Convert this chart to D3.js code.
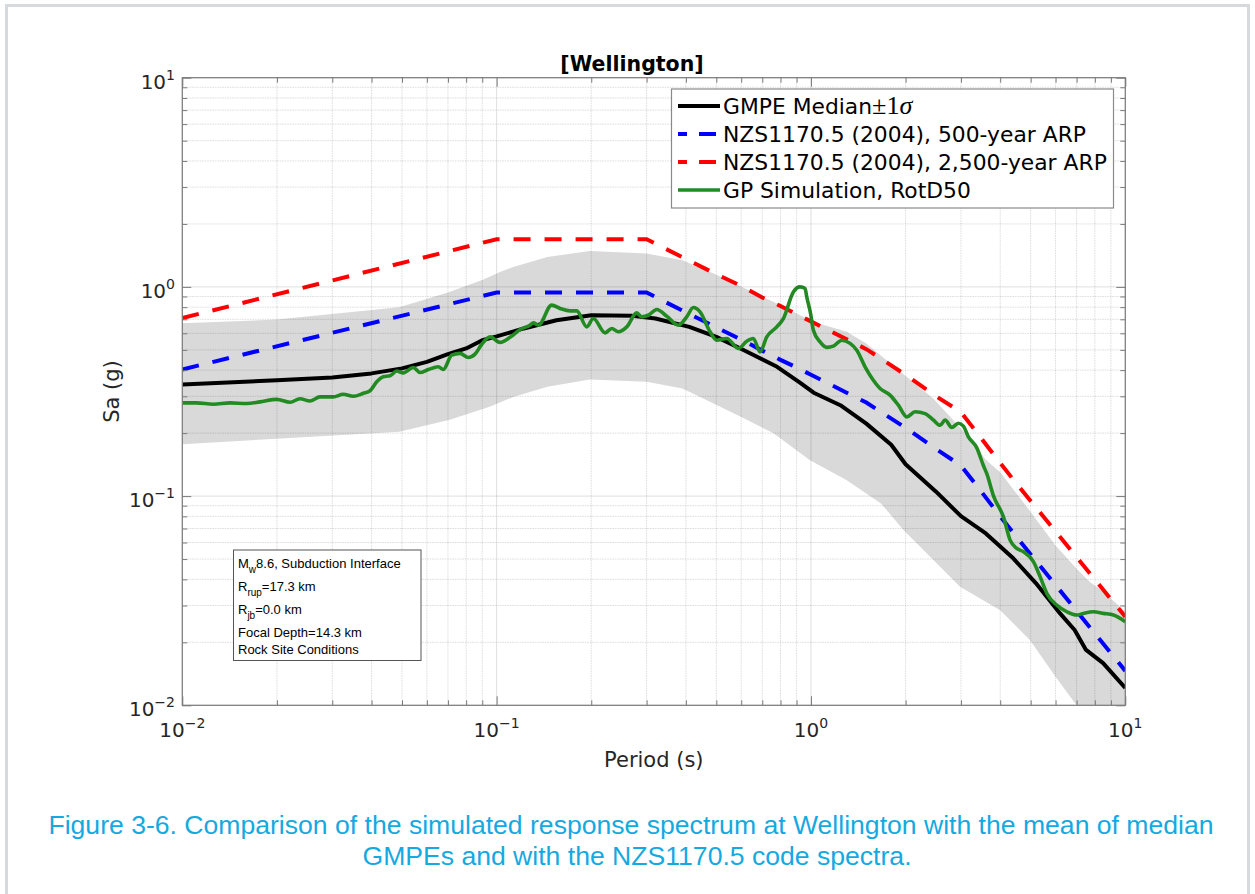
<!DOCTYPE html>
<html><head><meta charset="utf-8">
<script src="https://cdn.jsdelivr.net/npm/d3@7"></script>
<style>body{margin:0;background:#fff}svg{display:block}</style>
</head><body><svg id="c" width="1255" height="894"></svg>
<script>
// ---------------- DATA ----------------
const majorTicks = [0.01, 0.1, 1, 10];
const tickExponents = ["\u22122", "\u22121", "0", "1"];
const minorFactors = [2, 3, 4, 5, 6, 7, 8, 9];

// NZS1170.5 (2004) code spectra
const nzsPeriods = [0.01,0.1,0.3,0.4,0.5,0.6,0.7,0.8,0.9,1.0,1.5,2.0,2.5,3.0,3.5,4.0,4.5,10];
const nzs500     = [0.403,0.94,0.94,0.756,0.64,0.56,0.496,0.448,0.412,0.38,0.28,0.212,0.168,0.14,0.104,0.08,0.064,0.0146];
const nzs2500    = [0.71,1.69,1.69,1.36,1.15,1.01,0.89,0.81,0.74,0.684,0.504,0.38,0.30,0.252,0.187,0.144,0.115,0.0265];

// GMPE median
const medianPeriods = [0.01,0.02,0.03,0.04,0.05,0.06,0.07,0.08,0.09,0.1,0.122,0.155,0.2,0.27,0.32,0.41,0.5,0.61,0.78,0.92,1.02,1.24,1.5,1.8,2.0,2.5,3.0,3.6,4.4,5.2,6.2,6.9,7.5,8.5,10];
const medianSa      = [0.342,0.358,0.369,0.386,0.408,0.438,0.477,0.508,0.556,0.58,0.633,0.693,0.732,0.727,0.706,0.644,0.577,0.499,0.415,0.35,0.312,0.272,0.222,0.176,0.142,0.105,0.0802,0.0663,0.0504,0.0383,0.0275,0.0229,0.0184,0.0159,0.0121];

// GMPE median + 1 sigma
const upperPeriods = [0.01,0.02,0.049,0.07,0.09,0.103,0.113,0.145,0.198,0.3,0.39,0.49,0.62,0.8,1.02,1.3,1.5,1.9,2.45,3.17,3.6,4.0,5.0,6.0,7.0,7.7,8.5,10];
const upperSa      = [0.67,0.698,0.80,0.94,1.08,1.18,1.246,1.39,1.486,1.444,1.34,1.159,0.98,0.818,0.68,0.61,0.537,0.40,0.293,0.192,0.149,0.13,0.084,0.058,0.045,0.039,0.035,0.028];

// GMPE median - 1 sigma
const lowerPeriods = [0.01,0.049,0.071,0.095,0.113,0.145,0.198,0.3,0.39,0.49,0.6,0.76,0.99,1.3,1.67,1.97,2.98,4.0,4.97,6.0,6.8,8,10];
const lowerSa      = [0.177,0.203,0.232,0.267,0.298,0.333,0.361,0.352,0.327,0.277,0.239,0.1995,0.1486,0.119,0.0923,0.0689,0.0369,0.0285,0.0205,0.0137,0.0106,0.0078,0.0058];

// GP simulation RotD50
const simPeriods = [0.01,0.0111,0.01256,0.01419,0.01603,0.01766,0.01995,0.02203,0.02367,0.02547,0.02742,0.03022,0.03251,0.03499,0.03766,0.03956,0.04154,0.0436,0.04579,0.04809,0.05048,0.05433,0.05706,0.06065,0.06525,0.06767,0.07196,0.07648,0.08128,0.08535,0.08966,0.09528,0.1025,0.1103,0.1187,0.1277,0.1309,0.1358,0.1497,0.1591,0.1712,0.1798,0.1935,0.2031,0.2213,0.2324,0.2439,0.2594,0.2791,0.2895,0.3039,0.3231,0.3477,0.3785,0.4025,0.4224,0.4437,0.4775,0.5014,0.5396,0.5875,0.6247,0.6556,0.6887,0.7234,0.7785,0.817,0.879,0.923,0.9577,0.9696,0.997,1.018,1.069,1.123,1.178,1.253,1.332,1.399,1.486,1.579,1.659,1.785,1.897,2.018,2.144,2.307,2.452,2.575,2.672,2.805,2.944,3.054,3.168,3.37,3.536,3.625,3.81,4.095,4.301,4.517,4.741,5.101,5.357,5.626,6.053,6.516,7.012,7.36,7.916,8.52,9.166,10];
const simSa      = [0.279,0.279,0.275,0.279,0.277,0.282,0.290,0.281,0.292,0.285,0.298,0.298,0.307,0.300,0.310,0.319,0.352,0.372,0.376,0.396,0.388,0.412,0.390,0.403,0.415,0.403,0.472,0.481,0.460,0.477,0.532,0.577,0.543,0.574,0.626,0.656,0.673,0.656,0.818,0.789,0.768,0.768,0.644,0.706,0.603,0.633,0.610,0.644,0.751,0.719,0.732,0.780,0.724,0.656,0.719,0.797,0.760,0.610,0.556,0.567,0.508,0.550,0.567,0.489,0.577,0.644,0.706,0.946,1.0,0.983,0.896,0.746,0.621,0.546,0.514,0.521,0.556,0.537,0.498,0.415,0.358,0.327,0.304,0.272,0.239,0.253,0.248,0.231,0.218,0.231,0.213,0.223,0.216,0.192,0.17,0.14,0.128,0.10,0.0796,0.0616,0.0562,0.0542,0.0486,0.0412,0.0343,0.0301,0.0280,0.0270,0.0275,0.0280,0.0275,0.0270,0.0251];

const legendLabels = ["GMPE Median", "NZS1170.5 (2004), 500-year ARP", "NZS1170.5 (2004), 2,500-year ARP", "GP Simulation, RotD50"];
const infoLines = [
  [["M",""],["w","sub"],["8.6, Subduction Interface",""]],
  [["R",""],["rup","sub"],["=17.3 km",""]],
  [["R",""],["jb","sub"],["=0.0 km",""]],
  [["Focal Depth=14.3 km",""]],
  [["Rock Site Conditions",""]]
];
const captionLines = ["Figure 3-6. Comparison of the simulated response spectrum at Wellington with the mean of median",
                      "GMPEs and with the NZS1170.5 code spectra."];

// ---------------- CHART ----------------
const svg = d3.select("#c");
const L = 182.3, R = 1125.3, T = 77.7, B = 705.3;
const x = d3.scaleLog().domain([0.01, 10]).range([L, R]);
const y = d3.scaleLog().domain([0.01, 10]).range([B, T]);
const axisCol = "#7a7a7a", textCol = "#262626";

// page frame
svg.append("rect").attr("x", 6.5).attr("y", 5.5).attr("width", 1242).attr("height", 900)
  .attr("fill", "none").attr("stroke", "#d7dadd").attr("stroke-width", 3);

svg.append("defs").append("clipPath").attr("id", "clip")
  .append("rect").attr("x", L).attr("y", T).attr("width", R - L).attr("height", B - T);

const plot = svg.append("g").attr("clip-path", "url(#clip)");

// band
const bandPts = upperPeriods.map((p, i) => [p, upperSa[i]])
  .concat(lowerPeriods.map((p, i) => [p, lowerSa[i]]).reverse());
plot.append("path")
  .attr("d", d3.line().x(d => x(d[0])).y(d => y(d[1])).curve(d3.curveLinearClosed)(bandPts))
  .attr("fill", "#d9d9d9").attr("stroke", "none");

// grid
const minorVals = [];
[0.01, 0.1, 1].forEach(d => minorFactors.forEach(k => minorVals.push(k * d)));
const grid = svg.append("g");
minorVals.forEach(v => {
  grid.append("line").attr("x1", x(v)).attr("x2", x(v)).attr("y1", T).attr("y2", B)
    .attr("stroke", "rgba(38,38,38,0.16)").attr("stroke-width", 1).attr("stroke-dasharray", "1.5,1");
  grid.append("line").attr("y1", y(v)).attr("y2", y(v)).attr("x1", L).attr("x2", R)
    .attr("stroke", "rgba(38,38,38,0.16)").attr("stroke-width", 1).attr("stroke-dasharray", "1.5,1");
});
majorTicks.forEach(v => {
  grid.append("line").attr("x1", x(v)).attr("x2", x(v)).attr("y1", T).attr("y2", B)
    .attr("stroke", "rgba(38,38,38,0.15)").attr("stroke-width", 1);
  grid.append("line").attr("y1", y(v)).attr("y2", y(v)).attr("x1", L).attr("x2", R)
    .attr("stroke", "rgba(38,38,38,0.15)").attr("stroke-width", 1);
});

// lines
const line = d3.line().x(d => x(d[0])).y(d => y(d[1]));
const zip = (a, b) => a.map((p, i) => [p, b[i]]);
plot.append("path").attr("d", line(zip(nzsPeriods, nzs2500)))
  .attr("fill", "none").attr("stroke", "#ff0000").attr("stroke-width", 4).attr("stroke-dasharray", "17,14");
plot.append("path").attr("d", line(zip(nzsPeriods, nzs500)))
  .attr("fill", "none").attr("stroke", "#0000ff").attr("stroke-width", 4).attr("stroke-dasharray", "17,14");
plot.append("path").attr("d", line(zip(medianPeriods, medianSa)))
  .attr("fill", "none").attr("stroke", "#000").attr("stroke-width", 4).attr("stroke-linejoin", "round");
plot.append("path").attr("d", line.curve(d3.curveMonotoneX)(zip(simPeriods, simSa)))
  .attr("fill", "none").attr("stroke", "#228b22").attr("stroke-width", 3.6).attr("stroke-linejoin", "round");

// axes ticks (inward) on all four sides
function ticks(axis, tx, ty, vals, size) {
  const g = svg.append("g").attr("transform", `translate(${tx},${ty})`)
    .call(axis.tickValues(vals).tickSize(size).tickFormat(""));
  g.select(".domain").remove();
  g.selectAll("line").attr("stroke", axisCol);
}
ticks(d3.axisBottom(x), 0, B, majorTicks, -9);
ticks(d3.axisBottom(x), 0, B, minorVals, -5);
ticks(d3.axisTop(x), 0, T, majorTicks, -9);
ticks(d3.axisTop(x), 0, T, minorVals, -5);
ticks(d3.axisLeft(y), L, 0, majorTicks, -9);
ticks(d3.axisLeft(y), L, 0, minorVals, -5);
ticks(d3.axisRight(y), R, 0, majorTicks, -9);
ticks(d3.axisRight(y), R, 0, minorVals, -5);
svg.append("rect").attr("x", L).attr("y", T).attr("width", R - L).attr("height", B - T)
  .attr("fill", "none").attr("stroke", axisCol).attr("stroke-width", 1.2);

// tick labels
const font = "'DejaVu Sans', sans-serif";
majorTicks.forEach((v, i) => {
  const tx = svg.append("text").attr("x", x(v)).attr("y", 737).attr("text-anchor", "middle")
    .attr("font-family", font).attr("font-size", 20).attr("fill", textCol);
  tx.append("tspan").text("10");
  tx.append("tspan").attr("dy", -9).attr("font-size", 14).text(tickExponents[i]);
  const ty = svg.append("text").attr("x", 175).attr("y", y(v) + 11).attr("text-anchor", "end")
    .attr("font-family", font).attr("font-size", 20).attr("fill", textCol);
  ty.append("tspan").text("10");
  ty.append("tspan").attr("dy", -9).attr("font-size", 14).text(tickExponents[i]);
});

// axis labels & title
svg.append("text").attr("x", (L + R) / 2).attr("y", 767).attr("text-anchor", "middle")
  .attr("font-family", font).attr("font-size", 21).attr("fill", textCol).text("Period (s)");
svg.append("text").attr("transform", `translate(119,${(T + B) / 2}) rotate(-90)`).attr("text-anchor", "middle")
  .attr("font-family", font).attr("font-size", 21).attr("fill", textCol).text("Sa (g)");
svg.append("text").attr("x", 632).attr("y", 71).attr("text-anchor", "middle")
  .attr("font-family", font).attr("font-weight", "bold").attr("font-size", 20.5).attr("fill", "#000").text("[Wellington]");

// legend
const lg = svg.append("g");
lg.append("rect").attr("x", 671.5).attr("y", 89).attr("width", 442).attr("height", 119)
  .attr("fill", "#fff").attr("stroke", "#8a8a8a").attr("stroke-width", 1.2);
const rows = [106, 134, 162, 190];
const legStyles = [
  {c: "#000", dash: null, w: 4}, {c: "#0000ff", dash: "17,12", w: 4},
  {c: "#ff0000", dash: "17,12", w: 4}, {c: "#228b22", dash: null, w: 3.6}];
legStyles.forEach((s, i) => {
  const l = lg.append("line").attr("x1", 678).attr("x2", 720).attr("y1", rows[i]).attr("y2", rows[i])
    .attr("stroke", s.c).attr("stroke-width", s.w);
  if (s.dash) l.attr("stroke-dasharray", s.dash).attr("stroke-dashoffset", 8);
});
const legTexts = legendLabels.map((t, i) => lg.append("text").attr("x", 723).attr("y", rows[i] + 7.5)
  .attr("font-family", font).attr("font-size", 20).attr("fill", "#000").text(t));
const lw = legTexts[2].node().getComputedTextLength();
const lfs = 20 * 384 / lw;
legTexts.forEach(t => t.attr("font-size", lfs));
legTexts[0].append("tspan").attr("font-family", "'Liberation Serif', serif").attr("font-size", lfs * 1.2).text("\u00b11");
legTexts[0].append("tspan").attr("font-family", "'Liberation Serif', serif").attr("font-size", lfs * 1.2).attr("font-style", "italic").text("\u03c3");

// info box
const ib = svg.append("g");
ib.append("rect").attr("x", 233.5).attr("y", 550).attr("width", 187.5).attr("height", 110.5)
  .attr("fill", "#fff").attr("stroke", "#555").attr("stroke-width", 1);
const infoY = [568, 591, 614, 637, 654];
infoLines.forEach((parts, i) => {
  const t = ib.append("text").attr("x", 238).attr("y", infoY[i])
    .attr("font-family", "'Liberation Sans', Arial, sans-serif").attr("font-size", 13).attr("fill", "#000");
  let shifted = false;
  parts.forEach(([s, kind]) => {
    const sp = t.append("tspan").text(s);
    if (kind === "sub") { sp.attr("font-size", 10).attr("dy", 5); shifted = true; }
    else if (shifted) { sp.attr("dy", -5); shifted = false; }
  });
});

// caption
const capCol = "#15a9e1";
const cap = captionLines.map((s, i) => svg.append("text").attr("x", 631).attr("y", [834, 865][i])
  .attr("text-anchor", "middle").attr("font-family", "'Liberation Sans', Arial, sans-serif")
  .attr("font-size", 24).attr("fill", capCol).text(s));
const cw = cap[0].node().getComputedTextLength();
const cfs = 24 * 1166 / cw;
cap.forEach(c => c.attr("font-size", cfs));
cap[1].attr("x", 637);
</script>
</body></html>
